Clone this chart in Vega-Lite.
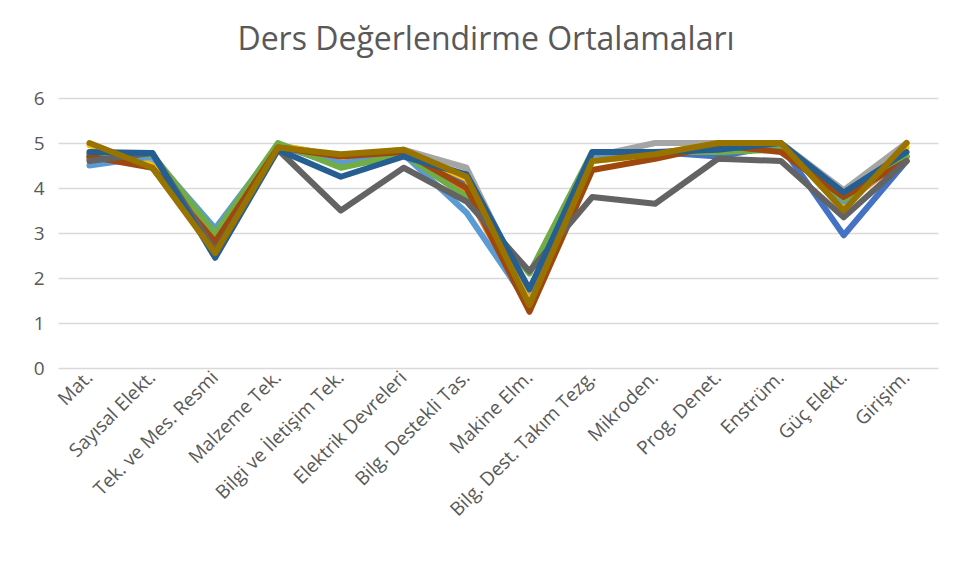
{
  "$schema": "https://vega.github.io/schema/vega-lite/v6.json",
  "autosize": {"type": "none"},
  "width": 880,
  "height": 270,
  "padding": {"left": 58, "top": 98, "right": 25, "bottom": 213},
  "background": "white",
  "title": {"text": "Ders Değerlendirme Ortalamaları", "font": "Open Sans", "fontSize": 32, "fontWeight": "normal", "color": "#595959", "offset": 32, "dx": -12},
  "data": {"values": [
    {"c":"Mat.","s":"S01","v":4.75},{"c":"Sayısal Elekt.","s":"S01","v":4.7},{"c":"Tek. ve Mes. Resmi","s":"S01","v":2.5},{"c":"Malzeme Tek.","s":"S01","v":4.95},{"c":"Bilgi ve İletişim Tek.","s":"S01","v":4.5},{"c":"Elektrik Devreleri","s":"S01","v":4.8},{"c":"Bilg. Destekli Tas.","s":"S01","v":4.1},{"c":"Makine Elm.","s":"S01","v":1.5},{"c":"Bilg. Dest. Takım Tezg.","s":"S01","v":4.75},{"c":"Mikroden.","s":"S01","v":4.8},{"c":"Prog. Denet.","s":"S01","v":4.7},{"c":"Enstrüm.","s":"S01","v":4.95},{"c":"Güç Elekt.","s":"S01","v":2.95},{"c":"Girişim.","s":"S01","v":4.6},
    {"c":"Mat.","s":"S02","v":4.65},{"c":"Sayısal Elekt.","s":"S02","v":4.55},{"c":"Tek. ve Mes. Resmi","s":"S02","v":2.9},{"c":"Malzeme Tek.","s":"S02","v":4.95},{"c":"Bilgi ve İletişim Tek.","s":"S02","v":4.55},{"c":"Elektrik Devreleri","s":"S02","v":4.8},{"c":"Bilg. Destekli Tas.","s":"S02","v":3.9},{"c":"Makine Elm.","s":"S02","v":1.3},{"c":"Bilg. Dest. Takım Tezg.","s":"S02","v":4.7},{"c":"Mikroden.","s":"S02","v":4.75},{"c":"Prog. Denet.","s":"S02","v":4.9},{"c":"Enstrüm.","s":"S02","v":4.9},{"c":"Güç Elekt.","s":"S02","v":3.65},{"c":"Girişim.","s":"S02","v":4.7},
    {"c":"Mat.","s":"S03","v":4.65},{"c":"Sayısal Elekt.","s":"S03","v":4.6},{"c":"Tek. ve Mes. Resmi","s":"S03","v":2.7},{"c":"Malzeme Tek.","s":"S03","v":4.95},{"c":"Bilgi ve İletişim Tek.","s":"S03","v":4.7},{"c":"Elektrik Devreleri","s":"S03","v":4.85},{"c":"Bilg. Destekli Tas.","s":"S03","v":4.45},{"c":"Makine Elm.","s":"S03","v":1.6},{"c":"Bilg. Dest. Takım Tezg.","s":"S03","v":4.7},{"c":"Mikroden.","s":"S03","v":5.0},{"c":"Prog. Denet.","s":"S03","v":5.0},{"c":"Enstrüm.","s":"S03","v":5.0},{"c":"Güç Elekt.","s":"S03","v":3.95},{"c":"Girişim.","s":"S03","v":5.0},
    {"c":"Mat.","s":"S04","v":4.95},{"c":"Sayısal Elekt.","s":"S04","v":4.5},{"c":"Tek. ve Mes. Resmi","s":"S04","v":2.65},{"c":"Malzeme Tek.","s":"S04","v":4.95},{"c":"Bilgi ve İletişim Tek.","s":"S04","v":4.7},{"c":"Elektrik Devreleri","s":"S04","v":4.85},{"c":"Bilg. Destekli Tas.","s":"S04","v":4.2},{"c":"Makine Elm.","s":"S04","v":1.45},{"c":"Bilg. Dest. Takım Tezg.","s":"S04","v":4.6},{"c":"Mikroden.","s":"S04","v":4.75},{"c":"Prog. Denet.","s":"S04","v":5.0},{"c":"Enstrüm.","s":"S04","v":5.0},{"c":"Güç Elekt.","s":"S04","v":3.6},{"c":"Girişim.","s":"S04","v":4.9},
    {"c":"Mat.","s":"S05","v":4.5},{"c":"Sayısal Elekt.","s":"S05","v":4.7},{"c":"Tek. ve Mes. Resmi","s":"S05","v":3.1},{"c":"Malzeme Tek.","s":"S05","v":4.95},{"c":"Bilgi ve İletişim Tek.","s":"S05","v":4.55},{"c":"Elektrik Devreleri","s":"S05","v":4.75},{"c":"Bilg. Destekli Tas.","s":"S05","v":3.45},{"c":"Makine Elm.","s":"S05","v":1.4},{"c":"Bilg. Dest. Takım Tezg.","s":"S05","v":4.75},{"c":"Mikroden.","s":"S05","v":4.8},{"c":"Prog. Denet.","s":"S05","v":4.8},{"c":"Enstrüm.","s":"S05","v":4.9},{"c":"Güç Elekt.","s":"S05","v":3.7},{"c":"Girişim.","s":"S05","v":4.7},
    {"c":"Mat.","s":"S06","v":4.7},{"c":"Sayısal Elekt.","s":"S06","v":4.75},{"c":"Tek. ve Mes. Resmi","s":"S06","v":3.0},{"c":"Malzeme Tek.","s":"S06","v":5.0},{"c":"Bilgi ve İletişim Tek.","s":"S06","v":4.45},{"c":"Elektrik Devreleri","s":"S06","v":4.75},{"c":"Bilg. Destekli Tas.","s":"S06","v":3.8},{"c":"Makine Elm.","s":"S06","v":2.1},{"c":"Bilg. Dest. Takım Tezg.","s":"S06","v":4.8},{"c":"Mikroden.","s":"S06","v":4.8},{"c":"Prog. Denet.","s":"S06","v":4.8},{"c":"Enstrüm.","s":"S06","v":4.85},{"c":"Güç Elekt.","s":"S06","v":3.75},{"c":"Girişim.","s":"S06","v":4.7},
    {"c":"Mat.","s":"S07","v":4.7},{"c":"Sayısal Elekt.","s":"S07","v":4.45},{"c":"Tek. ve Mes. Resmi","s":"S07","v":2.8},{"c":"Malzeme Tek.","s":"S07","v":4.9},{"c":"Bilgi ve İletişim Tek.","s":"S07","v":4.7},{"c":"Elektrik Devreleri","s":"S07","v":4.8},{"c":"Bilg. Destekli Tas.","s":"S07","v":4.0},{"c":"Makine Elm.","s":"S07","v":1.25},{"c":"Bilg. Dest. Takım Tezg.","s":"S07","v":4.4},{"c":"Mikroden.","s":"S07","v":4.65},{"c":"Prog. Denet.","s":"S07","v":4.95},{"c":"Enstrüm.","s":"S07","v":4.8},{"c":"Güç Elekt.","s":"S07","v":3.8},{"c":"Girişim.","s":"S07","v":4.6},
    {"c":"Mat.","s":"S08","v":4.6},{"c":"Sayısal Elekt.","s":"S08","v":4.78},{"c":"Tek. ve Mes. Resmi","s":"S08","v":2.6},{"c":"Malzeme Tek.","s":"S08","v":4.85},{"c":"Bilgi ve İletişim Tek.","s":"S08","v":3.5},{"c":"Elektrik Devreleri","s":"S08","v":4.45},{"c":"Bilg. Destekli Tas.","s":"S08","v":3.7},{"c":"Makine Elm.","s":"S08","v":2.15},{"c":"Bilg. Dest. Takım Tezg.","s":"S08","v":3.8},{"c":"Mikroden.","s":"S08","v":3.65},{"c":"Prog. Denet.","s":"S08","v":4.65},{"c":"Enstrüm.","s":"S08","v":4.6},{"c":"Güç Elekt.","s":"S08","v":3.35},{"c":"Girişim.","s":"S08","v":4.6},
    {"c":"Mat.","s":"S09","v":4.8},{"c":"Sayısal Elekt.","s":"S09","v":4.78},{"c":"Tek. ve Mes. Resmi","s":"S09","v":2.45},{"c":"Malzeme Tek.","s":"S09","v":4.85},{"c":"Bilgi ve İletişim Tek.","s":"S09","v":4.25},{"c":"Elektrik Devreleri","s":"S09","v":4.7},{"c":"Bilg. Destekli Tas.","s":"S09","v":4.3},{"c":"Makine Elm.","s":"S09","v":1.75},{"c":"Bilg. Dest. Takım Tezg.","s":"S09","v":4.8},{"c":"Mikroden.","s":"S09","v":4.8},{"c":"Prog. Denet.","s":"S09","v":4.85},{"c":"Enstrüm.","s":"S09","v":5.0},{"c":"Güç Elekt.","s":"S09","v":3.9},{"c":"Girişim.","s":"S09","v":4.8},
    {"c":"Mat.","s":"S10","v":5.0},{"c":"Sayısal Elekt.","s":"S10","v":4.45},{"c":"Tek. ve Mes. Resmi","s":"S10","v":2.55},{"c":"Malzeme Tek.","s":"S10","v":4.9},{"c":"Bilgi ve İletişim Tek.","s":"S10","v":4.75},{"c":"Elektrik Devreleri","s":"S10","v":4.85},{"c":"Bilg. Destekli Tas.","s":"S10","v":4.25},{"c":"Makine Elm.","s":"S10","v":1.4},{"c":"Bilg. Dest. Takım Tezg.","s":"S10","v":4.6},{"c":"Mikroden.","s":"S10","v":4.75},{"c":"Prog. Denet.","s":"S10","v":5.0},{"c":"Enstrüm.","s":"S10","v":5.0},{"c":"Güç Elekt.","s":"S10","v":3.5},{"c":"Girişim.","s":"S10","v":5.0}
  ]},
  "mark": {"type": "line", "strokeWidth": 6, "strokeJoin": "round", "strokeCap": "round"},
  "encoding": {
    "x": {"field": "c", "type": "nominal", "sort": null, "scale": {"type": "band", "paddingInner": 0, "paddingOuter": 0},
      "axis": {"title": null, "labelAngle": -45, "labelAlign": "right", "labelBaseline": "middle", "labelFont": "Open Sans", "labelFontSize": 19, "labelColor": "#595959", "labelPadding": 6, "labelLimit": 400, "ticks": false, "domain": false, "grid": false}},
    "y": {"field": "v", "type": "quantitative", "scale": {"domain": [0, 6]},
      "axis": {"title": null, "values": [0,1,2,3,4,5,6], "labelFont": "Open Sans", "labelFontSize": 19, "labelColor": "#595959", "labelPadding": 14, "ticks": false, "domain": false, "gridColor": "#D9D9D9", "gridWidth": 1.5}},
    "color": {"field": "s", "type": "nominal", "legend": null,
      "scale": {"domain": ["S01","S02","S03","S04","S05","S06","S07","S08","S09","S10"],
        "range": ["#4472C4","#ED7D31","#A5A5A5","#FFC000","#5B9BD5","#70AD47","#9E480E","#636363","#255E91","#997300"]}}
  },
  "config": {"view": {"stroke": null}}
}
